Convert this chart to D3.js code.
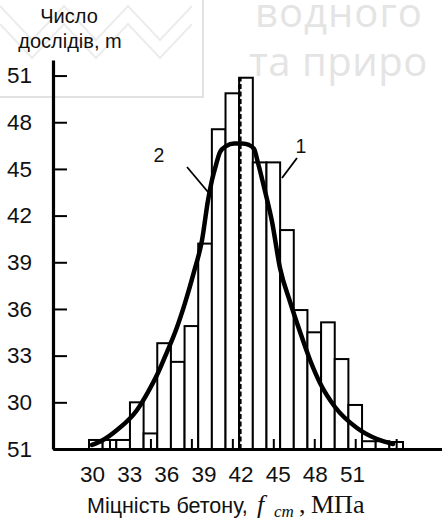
<!DOCTYPE html>
<html>
<head>
<meta charset="utf-8">
<script src="https://cdn.jsdelivr.net/npm/d3@7"></script>
<style>
  html, body { margin: 0; padding: 0; background: #fff; }
  svg { display: block; }
</style>
</head>
<body>
<svg id="chart" width="442" height="520"></svg>
<script>
// Histogram bins: concrete strength (bin centre, MPa) and number of tests (axis units)
const binCentres = [29, 30, 31, 32, 33, 34, 35, 36, 37, 38, 39, 40, 41, 42, 43, 44, 45, 46, 47, 48, 49, 50, 51];
const binCounts  = [27.58, 27.58, 27.58, 30.0, 28.0, 33.8, 32.6, 34.9, 40.2, 47.55, 49.86, 50.86,
                    45.42, 45.42, 41.07, 35.93, 34.5, 35.14, 32.78, 29.83, 27.5, 27.5, 27.45];

// Smoothed distribution curve (strength, tests)
const curveX = [28.72, 29.53, 30.55, 32.02, 32.82, 33.55, 34.21, 34.87, 35.53, 36.19, 36.78, 37.22, 37.51,
                37.80, 38.10, 38.54, 39.12, 39.71, 40.22, 40.59, 40.88, 41.39, 41.91, 42.49, 43.23,
                43.96, 44.69, 45.42, 46.52, 48.13, 49.60, 50.77];
const curveY = [27.26, 27.58, 28.22, 29.51, 30.66, 31.88, 33.23, 34.65, 36.38, 38.38, 40.43, 43.00, 44.29,
                45.25, 46.09, 46.47, 46.63, 46.63, 46.54, 46.28, 45.38, 43.58, 41.59, 38.63, 36.45,
                34.52, 32.72, 31.24, 29.70, 28.35, 27.64, 27.32];

// Mean strength marker
const meanStrength = 39.55;
const meanTop = 50.86;

// Axis ticks and their printed labels
const yTickValues = [27, 30, 33, 36, 39, 42, 45, 48, 51];
const yTickLabels = ["51", "30", "33", "36", "39", "42", "45", "48", "51"];
const xTickValues = [30, 33, 36, 39, 42, 45, 48, 51];
const xTickLabels = ["30", "33", "36", "39", "42", "45", "48", "51"];

const svg = d3.select("#chart");
const SANS = "'Liberation Sans', Arial, sans-serif";
const SERIF = "'Liberation Serif', 'Times New Roman', serif";

// faint publisher watermark in the background
const wm = svg.append("g").attr("class", "watermark");
wm.append("path")
  .attr("d", "M203,0 V97 H0")
  .attr("fill", "none").attr("stroke", "#e2e2e2").attr("stroke-width", 2);
[0, 18].forEach(dy => {
  wm.append("polyline")
    .attr("points", [[0, 6], [32, 40], [64, 6], [96, 40], [128, 6], [160, 40], [192, 6]]
      .map(p => [p[0], p[1] + dy].join(",")).join(" "))
    .attr("fill", "none").attr("stroke", "#ececec").attr("stroke-width", 2);
});
wm.append("text").attr("x", 255).attr("y", 27).text("водного")
  .attr("font-family", "'Open Sans', sans-serif").attr("font-size", 40)
  .attr("letter-spacing", 1).attr("fill", "#e4e4e4");
wm.append("text").attr("x", 249).attr("y", 76).text("та приро")
  .attr("font-family", "'Open Sans', sans-serif").attr("font-size", 40)
  .attr("letter-spacing", 0.5).attr("fill", "#e4e4e4");

// scales
const x = d3.scaleLinear().domain([28.5, 51.5]).range([89, 403]);
const xAxisScale = x.copy().domain([x.invert(53), x.invert(442)]).range([53, 442]);
const y = d3.scaleLinear().domain([27, 52]).range([449, 60]);
const xLabelScale = d3.scaleLinear().domain([30, 51]).range([92, 352]);

// histogram bars
svg.append("g").selectAll("rect")
  .data(binCentres)
  .join("rect")
  .attr("x", d => x(d - 0.5))
  .attr("width", d => x(d + 0.5) - x(d - 0.5))
  .attr("y", (d, i) => y(binCounts[i]))
  .attr("height", (d, i) => y(27) - y(binCounts[i]))
  .attr("fill", "#fff")
  .attr("stroke", "#000")
  .attr("stroke-width", 2);

// mean line
svg.append("line")
  .attr("x1", x(meanStrength)).attr("x2", x(meanStrength))
  .attr("y1", y(27)).attr("y2", y(meanTop))
  .attr("stroke", "#000").attr("stroke-width", 3.5)
  .attr("stroke-dasharray", "5,2.5");

// distribution curve
const pts = curveX.map((v, i) => [v, curveY[i]]);
svg.append("path")
  .datum(pts)
  .attr("d", d3.line().x(d => x(d[0])).y(d => y(d[1])).curve(d3.curveMonotoneX))
  .attr("fill", "none").attr("stroke", "#000").attr("stroke-width", 4.5)
  .attr("stroke-linecap", "round").attr("stroke-linejoin", "round");

// x axis: baseline with small inward ticks
const gx = svg.append("g").attr("transform", `translate(0,${y(27)})`)
  .call(d3.axisBottom(xAxisScale).tickValues(xTickValues).tickFormat("")
    .tickSizeInner(-10).tickSizeOuter(0));
gx.select(".domain").attr("stroke-width", 3.2);
gx.selectAll(".tick line").attr("stroke-width", 2);

// x tick labels row
const gxl = svg.append("g").attr("transform", "translate(0,482)")
  .call(d3.axisBottom(xLabelScale).tickValues(xTickValues)
    .tickFormat((d, i) => xTickLabels[i]).tickSize(0).tickPadding(0));
gxl.select(".domain").remove();
gxl.selectAll("text").attr("font-family", SANS).attr("font-size", 22.5)
  .attr("fill", "#111").attr("dy", 0).attr("dominant-baseline", "auto");

// y axis with inward ticks
const gy = svg.append("g").attr("transform", "translate(53,0)")
  .call(d3.axisLeft(y).tickValues(yTickValues).tickFormat((d, i) => yTickLabels[i])
    .tickSizeInner(-14).tickSizeOuter(0).tickPadding(21));
gy.select(".domain").attr("stroke-width", 3.2);
gy.selectAll(".tick line").attr("stroke-width", 2);
gy.selectAll("text").attr("font-family", SANS).attr("font-size", 22.5).attr("fill", "#111");

// y axis title
svg.append("text").attr("x", 69).attr("y", 23).attr("text-anchor", "middle")
  .attr("font-family", SANS).attr("font-size", 20).attr("fill", "#111").text("Число");
svg.append("text").attr("x", 70).attr("y", 48).attr("text-anchor", "middle")
  .attr("font-family", SANS).attr("font-size", 20).attr("fill", "#111").text("дослідів, m");

// x axis title
svg.append("text").attr("x", 87).attr("y", 513).attr("fill", "#111")
  .attr("font-family", SANS).attr("font-size", 21.5).text("Міцність бетону,");
svg.append("text").attr("x", 257).attr("y", 513).attr("fill", "#111")
  .attr("font-family", SERIF).attr("font-style", "italic").attr("font-size", 26).text("f");
svg.append("text").attr("x", 274).attr("y", 517).attr("fill", "#111")
  .attr("font-family", SERIF).attr("font-style", "italic").attr("font-size", 17).text("cm");
svg.append("text").attr("x", 299).attr("y", 513).attr("fill", "#111")
  .attr("font-family", SERIF).attr("font-size", 26).text(",");
svg.append("text").attr("x", 311).attr("y", 513).attr("fill", "#111")
  .attr("font-family", SERIF).attr("font-size", 26).text("МПа");

// curve labels with leader lines
svg.append("text").attr("x", 159).attr("y", 162).attr("text-anchor", "middle")
  .attr("font-family", SANS).attr("font-size", 19.5).attr("fill", "#111").text("2");
svg.append("line").attr("x1", 187).attr("y1", 167).attr("x2", 208).attr("y2", 192)
  .attr("stroke", "#000").attr("stroke-width", 1.8);
svg.append("text").attr("x", 301).attr("y", 153).attr("text-anchor", "middle")
  .attr("font-family", SANS).attr("font-size", 19.5).attr("fill", "#111").text("1");
svg.append("line").attr("x1", 297).attr("y1", 158).attr("x2", 282).attr("y2", 178)
  .attr("stroke", "#000").attr("stroke-width", 1.8);
</script>
</body>
</html>
